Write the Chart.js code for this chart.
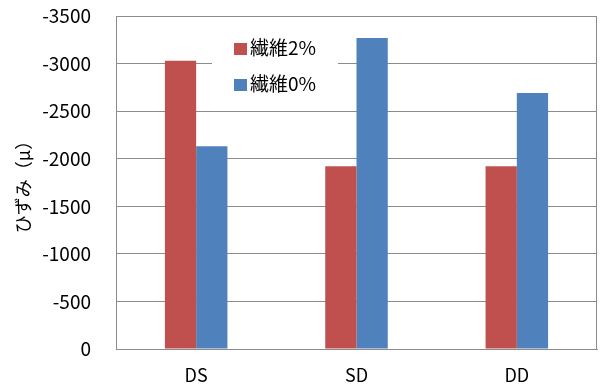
<!DOCTYPE html>
<html lang="ja">
<head>
    <meta charset="UTF-8">
    <title>ひずみ</title>
    <style>
        body { margin: 0; padding: 0; background: #fff; }
        canvas { display: block; }
    </style>
</head>
<body>
    <canvas id="strainChart" width="602" height="387"></canvas>

    <script src="https://cdn.jsdelivr.net/npm/chart.js"></script>
    <script>
        // categories and series
        const categories = ['DS', 'SD', 'DD'];
        const seriesNames = ['繊維2%', '繊維0%'];
        const fiber2 = [-3030, -1920, -1920];
        const fiber0 = [-2130, -3270, -2690];
        const yTicks = [0, -500, -1000, -1500, -2000, -2500, -3000, -3500];

        const FONT = "'Noto Sans CJK JP', 'Noto Sans', sans-serif";

        // legend drawn inside the plot, with a white box behind it
        const insideLegend = {
            id: 'insideLegend',
            afterDatasetsDraw(chart) {
                const ctx = chart.ctx;
                ctx.save();
                ctx.fillStyle = '#fff';
                ctx.fillRect(212, 34, 126, 66);
                chart.data.datasets.forEach((ds, i) => {
                    const y = 48 + i * 36;
                    ctx.fillStyle = ds.backgroundColor;
                    ctx.fillRect(234, y - 5, 13, 12);
                    ctx.fillStyle = '#000';
                    ctx.font = '19px ' + FONT;
                    ctx.textBaseline = 'middle';
                    ctx.fillText(ds.label, 250, y);
                });
                // frame round the plot area
                const a = chart.chartArea;
                ctx.strokeStyle = '#8c8c8c';
                ctx.lineWidth = 1;
                ctx.strokeRect(a.left + 0.5, a.top + 0.5, a.right - a.left - 1, a.bottom - a.top);
                ctx.restore();
            }
        };

        const ctx = document.getElementById('strainChart').getContext('2d');
        new Chart(ctx, {
            type: 'bar',
            data: {
                labels: categories,
                datasets: [
                    { label: seriesNames[0], data: fiber2, backgroundColor: '#C0504D' },
                    { label: seriesNames[1], data: fiber0, backgroundColor: '#4F81BD' }
                ]
            },
            options: {
                responsive: false,
                animation: false,
                devicePixelRatio: 1,
                layout: { padding: { top: 16, right: 5, left: 0, bottom: 0 } },
                datasets: { bar: { barPercentage: 1, categoryPercentage: 0.39 } },
                plugins: {
                    legend: { display: false },
                    tooltip: { enabled: false }
                },
                scales: {
                    x: {
                        grid: { display: false },
                        border: { color: '#8c8c8c' },
                        ticks: { color: '#000', font: { family: FONT, size: 18 }, padding: 7 },
                        afterFit: s => { s.height = 38; }
                    },
                    y: {
                        reverse: true,
                        min: -3500,
                        max: 0,
                        afterBuildTicks: s => { s.ticks = yTicks.map(v => ({ value: v })); },
                        grid: { color: '#8c8c8c', drawTicks: false },
                        border: { color: '#8c8c8c' },
                        ticks: {
                            color: '#000',
                            font: { family: FONT, size: 19 },
                            padding: 25,
                            callback: v => String(v)
                        },
                        title: {
                            display: true,
                            text: 'ひずみ（μ）',
                            color: '#000',
                            font: { family: FONT, size: 18 },
                            padding: { top: 12, bottom: 0 }
                        },
                        afterFit: s => {
                            s.width = 116;
                            s.paddingTop = 0;
                            s.paddingBottom = 0;
                        }
                    }
                }
            },
            plugins: [insideLegend]
        });
    </script>
</body>
</html>
